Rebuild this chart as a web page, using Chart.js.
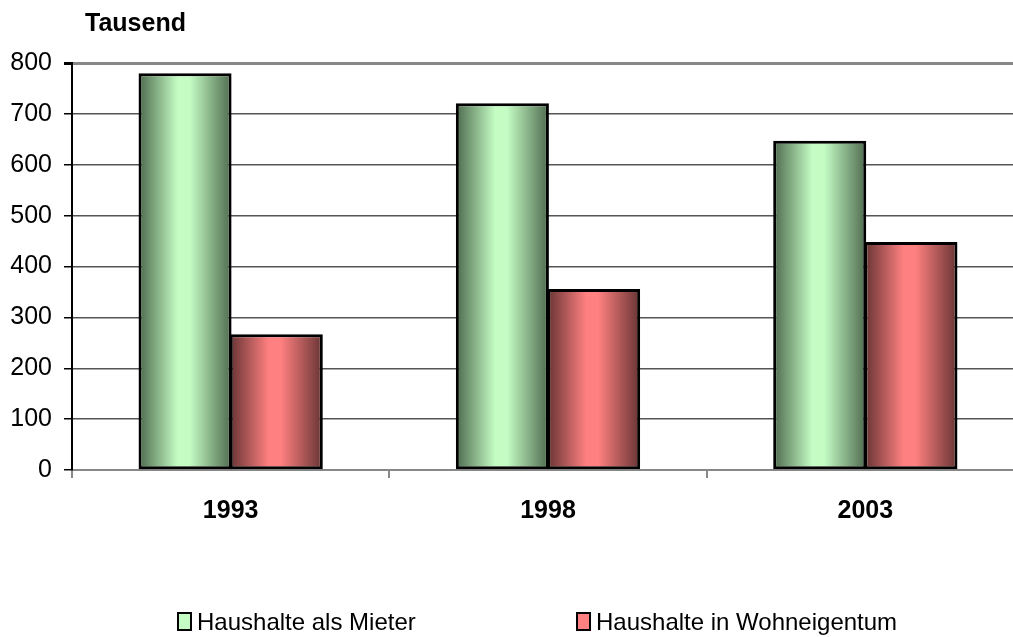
<!DOCTYPE html>
<html>
<head>
<meta charset="utf-8">
<script src="https://cdn.jsdelivr.net/npm/chart.js@4.4.1/dist/chart.umd.min.js"></script>
<style>
  html, body { margin: 0; padding: 0; background: #fff; overflow: hidden; }
  #wrap { position: relative; width: 1024px; height: 637px; }
  #titel { position: absolute; left: 85px; top: 8px; font: bold 25px "Liberation Sans", Arial, sans-serif; color: #000; }
  .leg { position: absolute; top: 608px; font: 24px "Liberation Sans", Arial, sans-serif; color: #000; white-space: nowrap; }
  .leg span { display: inline-block; width: 11px; height: 15px; border: 2px solid #000; margin-right: 5px; vertical-align: -1px; }
</style>
</head>
<body>
<div id="wrap">
  <canvas id="grafico" width="1024" height="637"></canvas>
  <div id="titel">Tausend</div>
  <div class="leg" style="left:177px"><span style="background:#c4fcc4"></span>Haushalte als Mieter</div>
  <div class="leg" style="left:576px"><span style="background:#ff8080"></span>Haushalte in Wohneigentum</div>
</div>
<script>
// Daten
const jahre = ['1993', '1998', '2003'];
const mieter = [780, 721, 647];
const eigentum = [267, 356, 448];
const yTicks = [0, 100, 200, 300, 400, 500, 600, 700, 800];

const catPct = 0.575;
const barPct = 1.02;

// horizontaler Farbverlauf pro Balken (dunkel - hell - dunkel)
function verlauf(dunkel, hell) {
    return (c) => {
        const chart = c.chart;
        const xs = chart.scales && chart.scales.x;
        if (!xs || c.type !== 'data' || !chart.chartArea) return hell;
        const mitte = xs.getPixelForValue(c.dataIndex);
        const breite = xs.width / jahre.length * catPct / 2;
        const x0 = c.datasetIndex === 0 ? mitte - breite : mitte;
        const g = chart.ctx.createLinearGradient(x0, 0, x0 + breite, 0);
        g.addColorStop(0.03, dunkel);
        g.addColorStop(0.42, hell);
        g.addColorStop(0.55, hell);
        g.addColorStop(0.97, dunkel);
        return g;
    };
}

const ctx = document.getElementById('grafico').getContext('2d');
new Chart(ctx, {
    type: 'bar',
    data: {
        labels: jahre,
        datasets: [
            {
                label: 'Haushalte als Mieter',
                data: mieter,
                backgroundColor: verlauf('#587758', '#c4fcc4'),
                borderColor: '#000',
                borderWidth: 3,
                borderSkipped: false,
                categoryPercentage: catPct,
                barPercentage: barPct
            },
            {
                label: 'Haushalte in Wohneigentum',
                data: eigentum,
                backgroundColor: verlauf('#743a3a', '#ff8080'),
                borderColor: '#000',
                borderWidth: 3,
                borderSkipped: false,
                categoryPercentage: catPct,
                barPercentage: barPct
            }
        ]
    },
    options: {
        responsive: false,
        animation: false,
        layout: { padding: { top: 63, right: 0, left: 0, bottom: 0 } },
        plugins: {
            legend: { display: false },
            tooltip: { enabled: false }
        },
        scales: {
            x: {
                afterFit: (s) => { s.height = 167; },
                grid: {
                    offset: true,
                    drawOnChartArea: false,
                    color: '#888',
                    tickLength: 8,
                    lineWidth: 2
                },
                border: { color: '#888', width: 2 },
                ticks: {
                    color: '#000',
                    padding: 18,
                    font: { family: '"Liberation Sans", Arial', size: 25, weight: 'bold' }
                }
            },
            y: {
                min: 0,
                max: 800,
                afterFit: (s) => { s.width = 72; },
                afterBuildTicks: (s) => { s.ticks = yTicks.map(v => ({ value: v })); },
                grid: {
                    color: (c) => c.tick && c.tick.value === 800 ? '#888' : '#555',
                    lineWidth: (c) => c.tick && c.tick.value === 800 ? 3 : 1.5,
                    tickLength: 8,
                    tickColor: '#000'
                },
                border: { color: '#000', width: 2 },
                ticks: {
                    color: '#000',
                    padding: 12,
                    font: { family: '"Liberation Sans", Arial', size: 25 }
                }
            }
        }
    }
});
</script>
</body>
</html>
